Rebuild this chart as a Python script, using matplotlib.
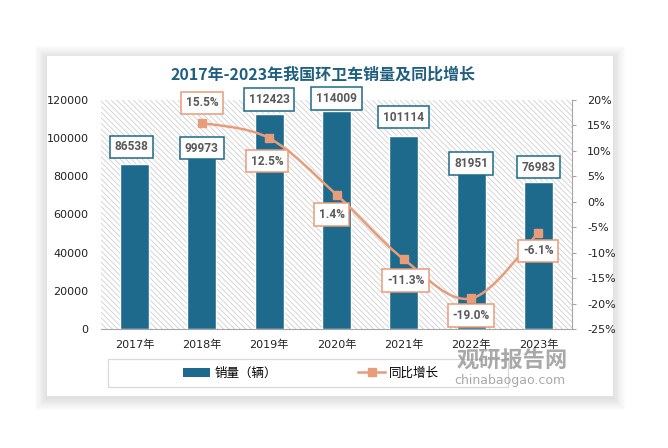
import matplotlib

matplotlib.use("Agg")
import matplotlib.pyplot as plt
from matplotlib.lines import Line2D
from matplotlib.patches import Patch, PathPatch, Rectangle
from matplotlib.path import Path
from matplotlib.ticker import FuncFormatter, MultipleLocator

years = ["2017年", "2018年", "2019年", "2020年", "2021年", "2022年", "2023年"]
sales = [86538, 99973, 112423, 114009, 101114, 81951, 76983]
growth = [None, 15.5, 12.5, 1.4, -11.3, -19.0, -6.1]

title = "2017年-2023年我国环卫车销量及同比增长"
bar_name = "销量（辆）"
line_name = "同比增长"

BAR = "#1d6a8d"
LINE = "#e89c7a"
LABEL_TXT = "#595959"
CJK = ["DejaVu Sans", "Noto Sans CJK SC"]

plt.rcParams["font.family"] = CJK
plt.rcParams["hatch.linewidth"] = 0.6
plt.rcParams["hatch.color"] = "#cfcfcf"

fig = plt.figure(figsize=(6.68, 4.48), dpi=100)
fig.patch.set_facecolor("white")

# card with soft shadow
cx0, cy0, cw, ch = 47 / 668, 1 - 396 / 448, 566 / 668, 340 / 448
for i in range(10, 0, -1):
    d = i * 1.2
    fig.patches.append(Rectangle((cx0 - d / 668, cy0 - (d + 2) / 448),
                                 cw + 2 * d / 668, ch + 2 * d / 448,
                                 transform=fig.transFigure, fc="#000000",
                                 alpha=0.011, ec="none", zorder=0))
fig.patches.append(Rectangle((cx0, cy0), cw, ch, transform=fig.transFigure,
                             fc="white", ec="none", zorder=1))

ax = fig.add_axes([101 / 668, 1 - 329 / 448, 471 / 668, 229 / 448])
ax.set_zorder(2)
ax.set_facecolor("white")
ax.add_patch(Rectangle((0, 0), 1, 1, transform=ax.transAxes, fc="white",
                       ec="#cfcfcf", lw=0, hatch="\\\\\\\\\\\\", zorder=0))

x = list(range(len(years)))
ax.bar(x, sales, width=0.43, color=BAR, edgecolor="white", linewidth=1, zorder=2)
ax.set_xlim(-0.5, len(years) - 0.5)
ax.set_ylim(0, 120000)
ax.yaxis.set_major_locator(MultipleLocator(20000))
ax.set_xticks(x)
ax.set_xticklabels(years)
for s in ("top", "left", "right"):
    ax.spines[s].set_visible(False)
ax.spines["bottom"].set_color("#a6a6a6")
ax.tick_params(axis="x", length=0, pad=8, labelsize=8, colors="#222222")
ax.tick_params(axis="y", length=0, pad=9, labelsize=8, colors="#222222")

ax2 = ax.twinx()
ax2.set_ylim(-25, 20)
ax2.yaxis.set_major_locator(MultipleLocator(5))
ax2.yaxis.set_major_formatter(FuncFormatter(lambda v, p: f"{v:.0f}%"))
for s in ("top", "left", "bottom"):
    ax2.spines[s].set_visible(False)
ax2.spines["right"].set_color("#a6a6a6")
ax2.tick_params(axis="y", length=3, width=0.8, color="#a6a6a6", pad=8,
                labelsize=8, labelcolor="#222222")

# smoothed growth line (Catmull-Rom style Bezier through the points)
gx = [i for i, g in zip(x, growth) if g is not None]
gy = [g for g in growth if g is not None]
pts = list(zip(gx, gy))
verts = [pts[0]]
codes = [Path.MOVETO]
for i in range(len(pts) - 1):
    p0 = pts[i - 1] if i > 0 else pts[i]
    p1, p2 = pts[i], pts[i + 1]
    p3 = pts[i + 2] if i + 2 < len(pts) else pts[i + 1]
    c1 = (p1[0] + (p2[0] - p0[0]) / 6, p1[1] + (p2[1] - p0[1]) / 6)
    c2 = (p2[0] - (p3[0] - p1[0]) / 6, p2[1] - (p3[1] - p1[1]) / 6)
    verts += [c1, c2, p2]
    codes += [Path.CURVE4] * 3
ax2.add_patch(PathPatch(Path(verts, codes), fc="none", ec=LINE, lw=1.8, zorder=3))
ax2.plot(gx, gy, ls="none", marker="s", ms=5.5, color=LINE, zorder=4)

# data labels (offsets in pixels, converted to points)
bar_dy = [17, -10, 15, 13, 19, 9, 15]
bar_dx = [-3, 0, 0, 0, 0, 0, 0]
for i, v in enumerate(sales):
    ax2.annotate(f"{v}", (i, v), xycoords=ax.transData,
                 xytext=(bar_dx[i] * 0.72, bar_dy[i] * 0.72), textcoords="offset points",
                 ha="center", va="center", fontsize=8.6, fontweight="bold",
                 family="Roboto", color=LABEL_TXT, zorder=6,
                 bbox=dict(boxstyle="square,pad=0.4", fc="white", ec=BAR, lw=1.1))

g_dy = [0, 20, -23, -20, -21, -17, -18]
g_dx = [0, 0, -2, -5, 2, 0, 0]
for i, g in enumerate(growth):
    if g is None:
        continue
    ax2.annotate(f"{g:.1f}%", (i, g), xytext=(g_dx[i] * 0.72, g_dy[i] * 0.72),
                 textcoords="offset points", ha="center", va="center",
                 fontsize=8.6, fontweight="bold", family="Roboto",
                 color=LABEL_TXT, zorder=6,
                 bbox=dict(boxstyle="square,pad=0.4", fc="white", ec=LINE, lw=1.1))

fig.text(323 / 668, 1 - 75 / 448, title, ha="center", va="center",
         fontsize=11.5, fontweight="bold", color="#1f5f80",
         family=["Noto Sans CJK SC", "DejaVu Sans"], zorder=5)

# legend
fig.patches.append(Rectangle((108 / 668, 1 - 387 / 448), 400 / 668, 28 / 448,
                             transform=fig.transFigure, fc="white", ec="#d9d9d9",
                             lw=0.9, zorder=2))
handles = [Patch(fc=BAR, ec="none"),
           Line2D([], [], color=LINE, lw=1.8, marker="s", ms=5.5)]
leg = fig.legend(handles, [bar_name, line_name], loc="center",
                 bbox_to_anchor=(311 / 668, 1 - 373 / 448), ncol=2, frameon=False,
                 prop={"family": ["Noto Sans CJK SC"], "size": 9},
                 columnspacing=6.5, handlelength=2.2, handletextpad=0.3)
leg.set_zorder(3)

# watermark
fig.text(512 / 668, 1 - 361 / 448, "观研报告网", ha="center", va="center",
         fontsize=16, fontweight="bold", color="#8c8c8c", alpha=0.75,
         family=["Noto Sans CJK SC"], zorder=7)
fig.text(510 / 668, 1 - 380 / 448, "chinabaogao.com", ha="center", va="center",
         fontsize=9, color="#8c8c8c", alpha=0.75, zorder=7)

fig.savefig("out.png", dpi=100)
